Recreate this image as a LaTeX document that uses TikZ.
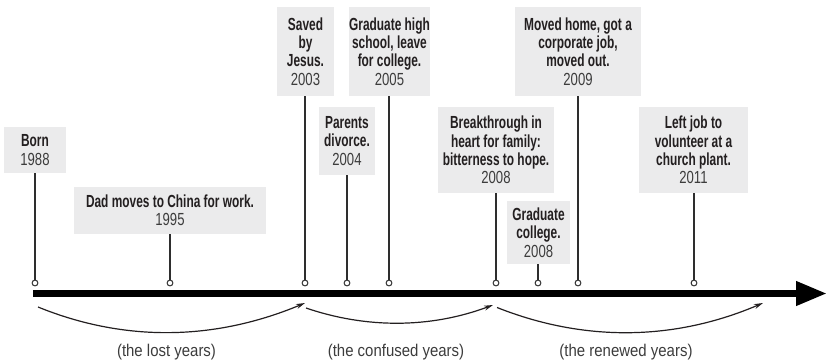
\documentclass[tikz,border=0pt]{standalone}
\usepackage{fontspec}
\setmainfont{Liberation Sans}
\newfontfamily\evbfont{Liberation Sans}[FakeStretch=0.68]
\newfontfamily\evyfont{Liberation Sans}[FakeStretch=0.75]
\newfontfamily\lblfont{Liberation Sans}[FakeStretch=0.88]
\usetikzlibrary{arrows.meta}
\definecolor{boxgray}{HTML}{EBEBEC}
\definecolor{inkdark}{HTML}{231F20}
\definecolor{yeargray}{HTML}{3C3C3C}
\definecolor{linegray}{HTML}{2E2E2E}
\newcommand{\evy}{\evyfont\mdseries\color{yeargray}}
\tikzset{
  evbox/.style={fill=boxgray, inner sep=0pt, align=center, text=inkdark,
    font=\evbfont\bfseries\fontsize{17.5}{18.3}\selectfont},
  stem/.style={draw=linegray, line width=1.1pt},
  dot/.style={circle, draw=linegray, fill=white, line width=1pt, inner sep=0pt, minimum size=5.8pt},
  era/.style={draw=inkdark, line width=1.2pt, -{Stealth[length=9pt,width=5pt]}},
  eralbl/.style={text=yeargray, font=\lblfont\fontsize{17}{18}\selectfont, inner sep=0pt, anchor=base},
}
\begin{document}
\begin{tikzpicture}[x=1pt,y=-1pt]
\useasboundingbox (0,0) rectangle (828,361);
% boxes
\node[evbox, minimum width=62pt, minimum height=46pt] (born) at (35,150) {Born\\\evy 1988};
\node[evbox, minimum width=192pt, minimum height=47pt] (dad) at (170,210.5) {Dad moves to China for work.\\\evy 1995};
\node[evbox, minimum width=57pt, minimum height=89pt] (saved) at (305.5,51.5) {Saved\\by\\Jesus.\\\evy 2003};
\node[evbox, minimum width=56pt, minimum height=68pt] (parents) at (347,141) {Parents\\divorce.\\\evy 2004};
\node[evbox, minimum width=81pt, minimum height=89pt] (gradhigh) at (389.5,51.5) {Graduate high\\school, leave\\for college.\\\evy 2005};
\node[evbox, minimum width=116pt, minimum height=86pt] (break) at (496,150) {Breakthrough in\\heart for family:\\bitterness to hope.\\\evy 2008};
\node[evbox, minimum width=63pt, minimum height=63pt] (gradcol) at (538.5,232.5) {Graduate\\college.\\\evy 2008};
\node[evbox, minimum width=126pt, minimum height=89pt] (moved) at (578,51.5) {Moved home, got a\\corporate job,\\moved out.\\\evy 2009};
\node[evbox, minimum width=109pt, minimum height=86pt] (left) at (693.5,150) {Left job to\\volunteer at a\\church plant.\\\evy 2011};
% axis
\coordinate (axL) at (33,293.5);
\coordinate (axR) at (827,293.5);
\draw[line width=7pt, -{Triangle[length=31pt 0,width=23pt 0]}] (axL) -- (axR);
% dots on axis
\node[dot] (dborn) at (35,283) {};
\node[dot] (ddad) at (170,283) {};
\node[dot] (dsaved) at (305,283) {};
\node[dot] (dparents) at (347,283) {};
\node[dot] (dgradhigh) at (389,283) {};
\node[dot] (dbreak) at (496,283) {};
\node[dot] (dgradcol) at (538,283) {};
\node[dot] (dmoved) at (578,283) {};
\node[dot] (dleft) at (694,283) {};
% stems
\draw[stem] (born.south -| dborn) -- (dborn.north);
\draw[stem] (dad.south -| ddad) -- (ddad.north);
\draw[stem] (saved.south -| dsaved) -- (dsaved.north);
\draw[stem] (parents.south -| dparents) -- (dparents.north);
\draw[stem] (gradhigh.south -| dgradhigh) -- (dgradhigh.north);
\draw[stem] (break.south -| dbreak) -- (dbreak.north);
\draw[stem] (gradcol.south -| dgradcol) -- (dgradcol.north);
\draw[stem] (moved.south -| dmoved) -- (dmoved.north);
\draw[stem] (left.south -| dleft) -- (dleft.north);
% era arrows
\coordinate (e1s) at (38,307);
\coordinate (e1e) at (305,303);
\coordinate (e2s) at (306,308);
\coordinate (e2e) at (493,305);
\coordinate (e3s) at (497,307.5);
\coordinate (e3e) at (763,303);
\draw[era] (e1s) .. controls (124,342) and (214,341) .. (e1e);
\draw[era] (e2s) .. controls (366,328.5) and (430,328.5) .. (e2e);
\draw[era] (e3s) .. controls (584,342) and (674,341) .. (e3e);
% era labels
\node[eralbl] (l1) at (166.5,356) {(the lost years)};
\node[eralbl] (l2) at (396,356) {(the confused years)};
\node[eralbl] (l3) at (626,356) {(the renewed years)};
\end{tikzpicture}
\end{document}
